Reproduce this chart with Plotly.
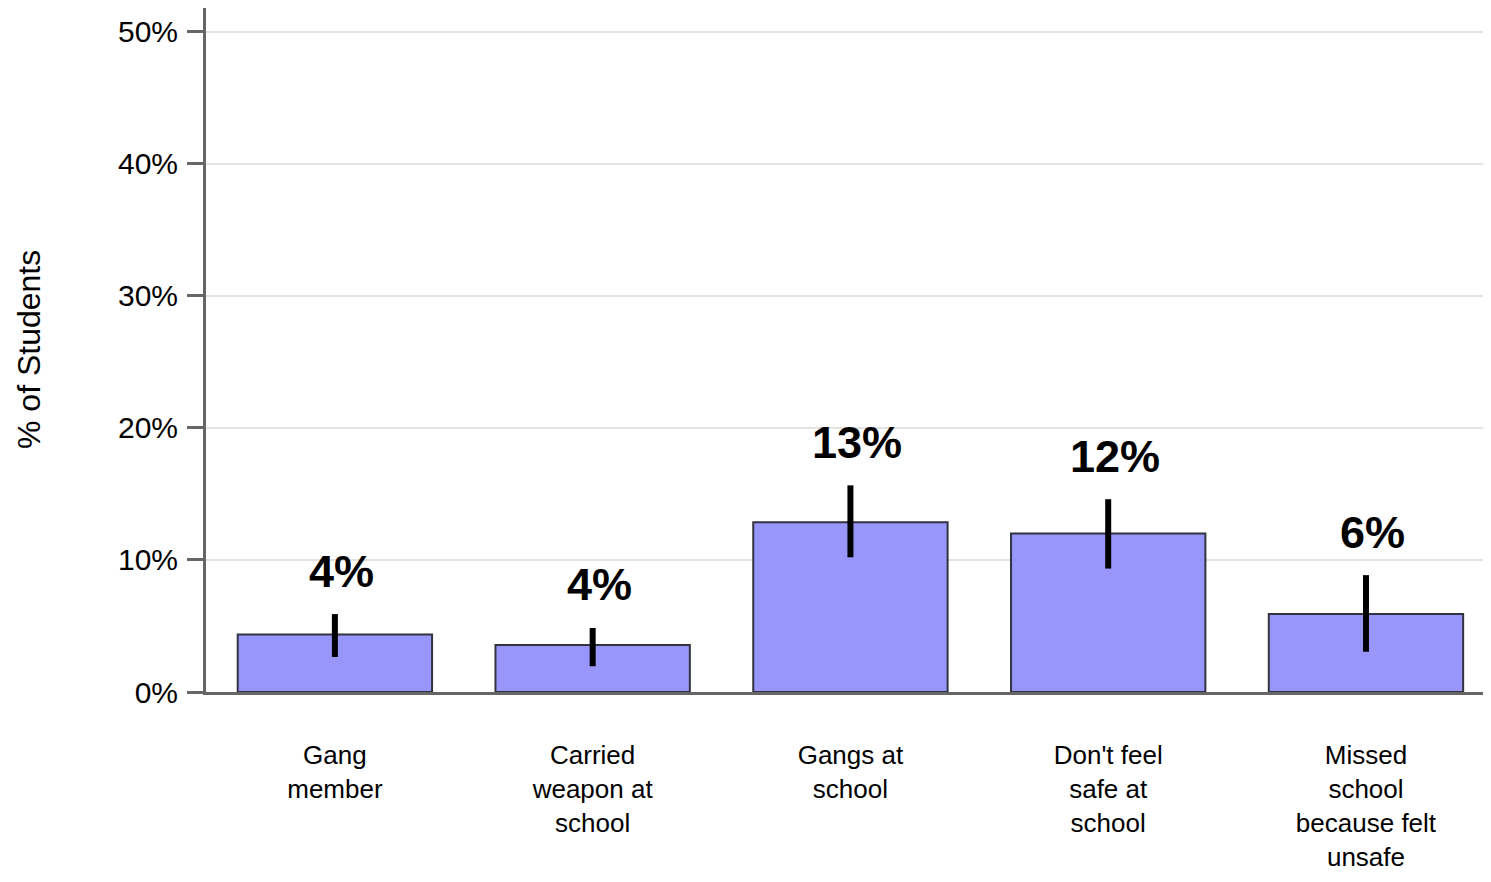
import plotly.graph_objects as go

categories = ["Gang<br>member", "Carried<br>weapon at<br>school", "Gangs at<br>school",
              "Don't feel<br>safe at<br>school", "Missed<br>school<br>because felt<br>unsafe"]
values = [4.35, 3.55, 12.85, 12.0, 5.9]
err_plus = [1.55, 1.3, 2.8, 2.6, 2.95]
err_minus = [1.7, 1.6, 2.65, 2.65, 2.85]
labels = ["4%", "4%", "13%", "12%", "6%"]
y_ticks = [0, 10, 20, 30, 40, 50]
y_ticktext = ["0%", "10%", "20%", "30%", "40%", "50%"]

FONT = "Liberation Sans, Arial, Helvetica, sans-serif"
x_idx = list(range(len(categories)))

# the page body keeps its default 8px margin, so the figure fills the rest of the window
fig = go.Figure()
fig.add_trace(go.Bar(
    x=x_idx, y=values, width=0.754,
    marker=dict(color="#9896fb", line=dict(color="#333340", width=2)),
    error_y=dict(type="data", symmetric=False, array=err_plus, arrayminus=err_minus,
                 color="black", thickness=6, width=0),
    hoverinfo="skip",
))

for i, (v, e, t) in enumerate(zip(values, err_plus, labels)):
    fig.add_annotation(x=i, y=v + e, text="<b>%s</b>" % t, showarrow=False,
                       xref="x", yref="y", yanchor="middle", xanchor="center",
                       yshift=43, xshift=7,
                       font=dict(family=FONT, size=45, color="black"))

fig.update_layout(
    width=1475, height=866,
    margin=dict(l=198, r=0, t=0, b=182),
    plot_bgcolor="white", paper_bgcolor="white",
    showlegend=False,
    font=dict(family=FONT, color="black"),
    xaxis=dict(range=[-0.5, 4.454], tickvals=x_idx, ticktext=categories,
               showgrid=False, zeroline=False, showline=True, linecolor="#666666",
               linewidth=3, ticks="", ticklabelstandoff=38, automargin=False,
               tickfont=dict(family=FONT, size=26, color="black")),
    yaxis=dict(range=[0, 51.8], tickvals=y_ticks, ticktext=y_ticktext,
               showgrid=True, gridcolor="#e3e3e3", gridwidth=2,
               zeroline=False, showline=True, linecolor="#666666", linewidth=3,
               ticks="outside", ticklen=16, tickwidth=3, tickcolor="#666666",
               tickfont=dict(family=FONT, size=30, color="black"),
               ticklabelstandoff=3, automargin=False),
)
fig.add_annotation(text="% of Students", xref="paper", yref="paper", x=0, y=0.5,
                   xshift=-177, textangle=-90, showarrow=False,
                   xanchor="center", yanchor="middle",
                   font=dict(family=FONT, size=32, color="black"))

fig.write_html("out.html")
